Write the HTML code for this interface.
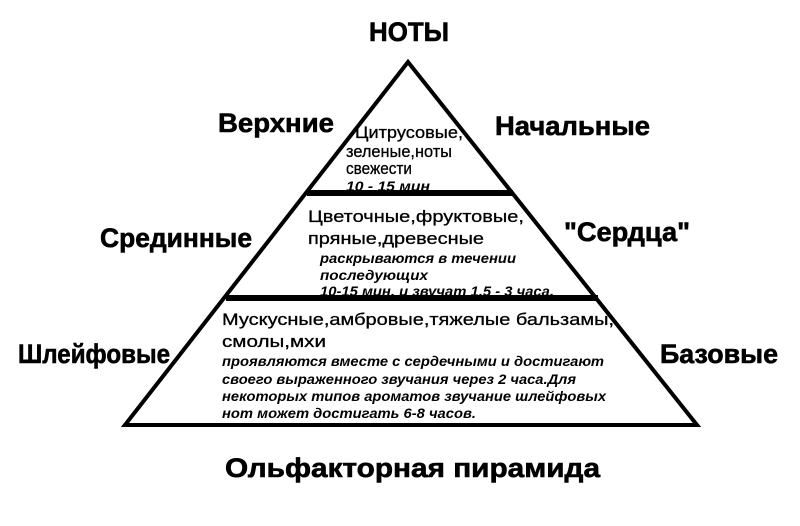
<!DOCTYPE html>
<html><head><meta charset="utf-8"><style>
html,body{margin:0;padding:0;background:#fff;width:800px;height:526px;overflow:hidden}
svg{display:block}
text{font-family:"Liberation Sans",Arial,sans-serif;fill:#000}
.b{font-weight:bold;font-size:27px;stroke:#000;stroke-width:0.6}
.n{font-size:17px;stroke:#000;stroke-width:0.3}
.i{font-style:italic;font-weight:bold;font-size:14px}
</style></head><body>
<svg width="800" height="526" viewBox="0 0 800 526">
<polygon points="408,62 125,425 697,425" fill="#fff" stroke="#000" stroke-width="4" stroke-linejoin="miter"/>
<line x1="307" y1="193" x2="513" y2="193" stroke="#000" stroke-width="6"/>
<line x1="226" y1="298" x2="598" y2="298" stroke="#000" stroke-width="6"/>
<text class="b" x="409" y="41" text-anchor="middle" textLength="80" lengthAdjust="spacingAndGlyphs">НОТЫ</text>
<text class="b" x="218" y="132" textLength="116" lengthAdjust="spacingAndGlyphs">Верхние</text>
<text class="b" x="495" y="135" textLength="155" lengthAdjust="spacingAndGlyphs">Начальные</text>
<text class="b" x="100" y="247" textLength="152" lengthAdjust="spacingAndGlyphs">Срединные</text>
<text class="b" x="564" y="241" textLength="126" lengthAdjust="spacingAndGlyphs">"Сердца"</text>
<text class="b" x="18" y="363" textLength="152" lengthAdjust="spacingAndGlyphs">Шлейфовые</text>
<text class="b" x="660" y="363" textLength="118" lengthAdjust="spacingAndGlyphs">Базовые</text>
<text class="b" x="225" y="477" textLength="375" lengthAdjust="spacingAndGlyphs">Ольфакторная пирамида</text>
<text class="n" x="355" y="138" textLength="108" lengthAdjust="spacingAndGlyphs">Цитрусовые,</text>
<text class="n" x="346" y="157" textLength="106" lengthAdjust="spacingAndGlyphs">зеленые,ноты</text>
<text class="n" x="346" y="174" textLength="66" lengthAdjust="spacingAndGlyphs">свежести</text>
<text class="i" x="346" y="191" textLength="84" lengthAdjust="spacingAndGlyphs">10 - 15 мин</text>
<text class="n" x="308" y="222" textLength="216" lengthAdjust="spacingAndGlyphs">Цветочные,фруктовые,</text>
<text class="n" x="308" y="244" textLength="176" lengthAdjust="spacingAndGlyphs">пряные,древесные</text>
<text class="i" x="320" y="263" textLength="196" lengthAdjust="spacingAndGlyphs">раскрываются в течении</text>
<text class="i" x="320" y="280" textLength="108" lengthAdjust="spacingAndGlyphs">последующих</text>
<text class="i" x="320" y="296" textLength="234" lengthAdjust="spacingAndGlyphs">10-15 мин. и звучат 1,5 - 3 часа.</text>
<text class="n" x="222" y="325" textLength="392" lengthAdjust="spacingAndGlyphs">Мускусные,амбровые,тяжелые бальзамы,</text>
<text class="n" x="222" y="347" textLength="104" lengthAdjust="spacingAndGlyphs">смолы,мхи</text>
<text class="i" x="222" y="366" textLength="382" lengthAdjust="spacingAndGlyphs">проявляются вместе с сердечными и достигают</text>
<text class="i" x="222" y="384" textLength="354" lengthAdjust="spacingAndGlyphs">своего выраженного звучания через 2 часа.Для</text>
<text class="i" x="222" y="401" textLength="384" lengthAdjust="spacingAndGlyphs">некоторых типов ароматов звучание шлейфовых</text>
<text class="i" x="222" y="418" textLength="254" lengthAdjust="spacingAndGlyphs">нот может достигать 6-8 часов.</text>
</svg>
</body></html>
